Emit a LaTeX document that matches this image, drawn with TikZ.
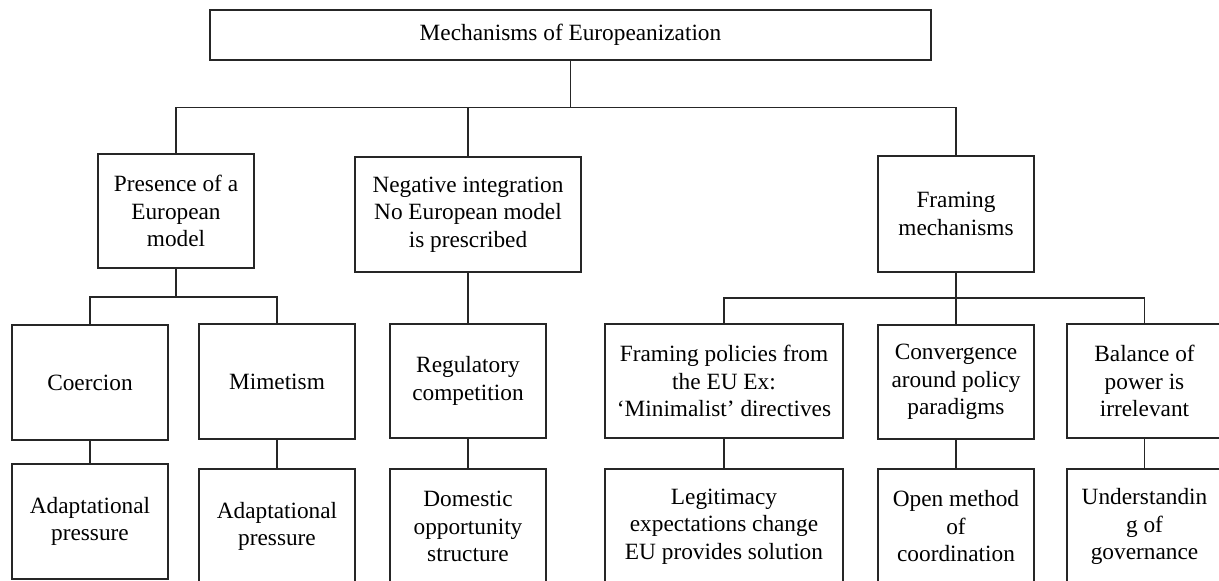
\documentclass[tikz,border=0pt]{standalone}
\usepackage{fontspec}
\setmainfont{Liberation Serif}
\begin{document}
\begin{tikzpicture}[x=1pt,y=-1pt,
  box/.style={draw=black!85,line width=1.1pt,rectangle,align=center,inner sep=2pt,
    font=\fontsize{23.3}{27.5}\selectfont},
  conn/.style={draw=black!85,line width=1.1pt}]
\useasboundingbox (0,0) rectangle (1219,581);
\fill[white] (0,0) rectangle (1219,581);
% level 1
\node[box,minimum width=721pt,minimum height=50pt] (top) at (570.5,35) {Mechanisms of Europeanization};
% level 2
\node[box,minimum width=156pt,minimum height=114pt] (pres) at (176,211) {Presence of a\\European\\model};
\node[box,minimum width=226pt,minimum height=115pt] (neg) at (468,214.5) {Negative integration\\No European model\\is prescribed};
\node[box,minimum width=156pt,minimum height=116pt] (fram) at (956,214) {Framing\\mechanisms};
% level 3
\node[box,minimum width=156pt,minimum height=115pt] (coer) at (90,382.5) {Coercion};
\node[box,minimum width=156pt,minimum height=115pt] (mim) at (277,381.5) {Mimetism};
\node[box,minimum width=156pt,minimum height=114pt] (reg) at (468,381) {Regulatory\\competition};
\node[box,minimum width=238pt,minimum height=114pt] (fpol) at (724,381) {Framing policies from\\the EU Ex:\\‘Minimalist’ directives};
\node[box,minimum width=156pt,minimum height=114pt] (conv) at (956,382) {Convergence\\around policy\\paradigms};
\node[box,minimum width=155pt,minimum height=114pt] (bal) at (1144.5,381) {Balance of\\power is\\irrelevant};
% level 4
\node[box,minimum width=156pt,minimum height=115pt] (ad1) at (90,521.5) {Adaptational\\pressure};
\node[box,minimum width=156pt,minimum height=115pt] (ad2) at (277,526.5) {Adaptational\\pressure};
\node[box,minimum width=156pt,minimum height=115pt] (dom) at (468,526.5) {Domestic\\opportunity\\structure};
\node[box,minimum width=238pt,minimum height=115pt] (leg) at (724,526.5) {Legitimacy\\expectations change\\EU provides solution};
\node[box,minimum width=156pt,minimum height=115pt] (omc) at (956,526.5) {Open method\\of\\coordination};
\node[box,minimum width=155pt,minimum height=115pt] (und) at (1144.5,526.5) {Understandin\\g of\\governance};
% junctions
\coordinate (j1) at (570.5,107.5);
\coordinate (j2) at (176,297);
\coordinate (j3) at (956,298);
% connectors
\draw[conn] (top.south) -- (j1);
\draw[conn] (pres.north) |- (j1) -| (fram.north);
\draw[conn] (neg.north) -- (neg.north |- j1);
\draw[conn] (pres.south) -- (j2);
\draw[conn] (coer.north) |- (j2) -| (mim.north);
\draw[conn] (neg.south) -- (reg.north);
\draw[conn] (fram.south) -- (j3);
\draw[conn] (fpol.north) |- (j3) -| (bal.north);
\draw[conn] (conv.north) -- (j3);
\draw[conn] (coer.south) -- (ad1.north);
\draw[conn] (mim.south) -- (ad2.north);
\draw[conn] (reg.south) -- (dom.north);
\draw[conn] (fpol.south) -- (leg.north);
\draw[conn] (conv.south) -- (omc.north);
\draw[conn] (bal.south) -- (und.north);
\end{tikzpicture}
\end{document}
